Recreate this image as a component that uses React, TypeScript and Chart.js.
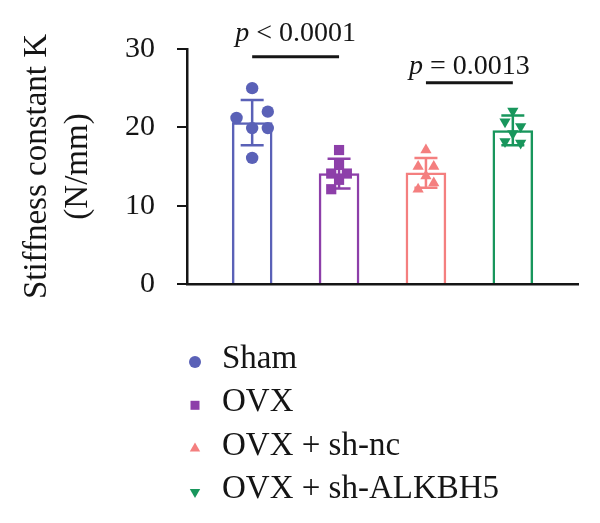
import React, { useEffect, useRef } from "react";
import { Chart, registerables } from "chart.js";
Chart.register(...registerables);

const groups = ["Sham", "OVX", "OVX + sh-nc", "OVX + sh-ALKBH5"];
const means = [20.6, 14.1, 14.2, 19.6];
const sds = [2.9, 1.9, 1.9, 1.9];
const shamPoints = [25.0, 21.2, 22.0, 19.9, 19.9, 16.1];
const ovxPoints = [17.1, 15.2, 14.1, 14.1, 13.3, 12.1];
const shncPoints = [17.1, 15.0, 15.0, 13.8, 12.9, 12.1];
const alkPoints = [22.1, 20.7, 20.1, 19.2, 18.2, 18.0];
const shamJitter = [0, -0.18, 0.18, 0, 0.18, 0];
const ovxJitter = [0, 0, -0.09, 0.09, 0, -0.09];
const shncJitter = [0, -0.09, 0.09, 0, 0.09, -0.09];
const alkJitter = [0, -0.09, 0.09, 0, -0.09, 0.09];
const yTicks = [0, 10, 20, 30];
const compFrom = [0, 2];
const compTo = [1, 3];
const compLineY = [29.0, 25.7];
const compTextY = [31.0, 26.8];
const compLabels = ["< 0.0001", "= 0.0013"];

const colors = ["#5A61B7", "#8D3FA9", "#F47F7F", "#18965C"];
const styles = ["circle", "rect", "triangle", "triangleDown"];
const FONT = "'Liberation Serif', 'Times New Roman', serif";
const INK = "#151515";

const allPoints = [shamPoints, ovxPoints, shncPoints, alkPoints];
const allJitter = [shamJitter, ovxJitter, shncJitter, alkJitter];

function drawMarker(ctx: CanvasRenderingContext2D, style: string, x: number, y: number, color: string) {
  ctx.fillStyle = color;
  ctx.beginPath();
  if (style === "circle") {
    ctx.arc(x, y, 6, 0, Math.PI * 2);
  } else if (style === "rect") {
    ctx.rect(x - 4.5, y - 4.5, 9, 9);
  } else if (style === "triangle") {
    const r = 6;
    ctx.moveTo(x, y - r);
    ctx.lineTo(x + r * Math.sin((2 * Math.PI) / 3), y - r * Math.cos((2 * Math.PI) / 3));
    ctx.lineTo(x + r * Math.sin((4 * Math.PI) / 3), y - r * Math.cos((4 * Math.PI) / 3));
    ctx.closePath();
  } else {
    const r = 6;
    ctx.moveTo(x, y + r);
    ctx.lineTo(x + r * Math.sin((2 * Math.PI) / 3), y + r * Math.cos((2 * Math.PI) / 3));
    ctx.lineTo(x + r * Math.sin((4 * Math.PI) / 3), y + r * Math.cos((4 * Math.PI) / 3));
    ctx.closePath();
  }
  ctx.fill();
}

const errorBarPlugin = {
  id: "errorBars",
  afterDatasetDraw(chart: any, args: any) {
    if (args.index !== 0) return;
    const { ctx, scales } = chart;
    const x = scales.x, y = scales.y;
    ctx.save();
    means.forEach((m, i) => {
      const cx = x.getPixelForValue(i);
      const top = y.getPixelForValue(m + sds[i]);
      const bot = y.getPixelForValue(m - sds[i]);
      ctx.strokeStyle = colors[i];
      ctx.lineWidth = 2.5;
      ctx.beginPath();
      ctx.moveTo(cx, top);
      ctx.lineTo(cx, bot);
      ctx.moveTo(cx - 11.5, top);
      ctx.lineTo(cx + 11.5, top);
      ctx.moveTo(cx - 11.5, bot);
      ctx.lineTo(cx + 11.5, bot);
      ctx.stroke();
    });
    ctx.restore();
  },
};

const annotationPlugin = {
  id: "annotations",
  afterDraw(chart: any) {
    const { ctx, scales, chartArea } = chart;
    const x = scales.x, y = scales.y;
    ctx.save();
    compFrom.forEach((f, i) => {
      const x1 = x.getPixelForValue(f);
      const x2 = x.getPixelForValue(compTo[i]);
      const ly = y.getPixelForValue(compLineY[i]);
      ctx.strokeStyle = INK;
      ctx.lineWidth = 3;
      ctx.beginPath();
      ctx.moveTo(x1, ly);
      ctx.lineTo(x2, ly);
      ctx.stroke();
      const ty = y.getPixelForValue(compTextY[i]);
      ctx.fillStyle = INK;
      ctx.textBaseline = "alphabetic";
      ctx.textAlign = "left";
      ctx.font = `italic 28px ${FONT}`;
      const pw = ctx.measureText("p").width;
      ctx.font = `28px ${FONT}`;
      const rest = " " + compLabels[i];
      const rw = ctx.measureText(rest).width;
      const start = (x1 + x2) / 2 - (pw + rw) / 2;
      ctx.font = `italic 28px ${FONT}`;
      ctx.fillText("p", start, ty);
      ctx.font = `28px ${FONT}`;
      ctx.fillText(rest, start + pw, ty);
    });

    // legend
    const lx = chartArea.left + 8;
    const ly0 = chartArea.bottom + 78;
    const step = 43.3;
    groups.forEach((g, i) => {
      const yy = ly0 + i * step;
      drawMarker(ctx, styles[i], lx, yy, colors[i]);
      ctx.fillStyle = INK;
      ctx.font = `33px ${FONT}`;
      ctx.textAlign = "left";
      ctx.textBaseline = "alphabetic";
      ctx.fillText(g, lx + 27, yy + 6);
    });
    ctx.restore();
  },
};

export default function App() {
  const ref = useRef<HTMLCanvasElement | null>(null);
  useEffect(() => {
    if (!ref.current) return;
    const datasets: any[] = [
      {
        type: "bar",
        label: "mean",
        data: means.map((m, i) => ({ x: i, y: m })),
        backgroundColor: "#ffffff",
        borderColor: colors,
        borderWidth: 2.5,
        barThickness: 40,
        borderSkipped: "bottom",
        order: 2,
      },
    ];
    allPoints.forEach((pts, i) => {
      datasets.push({
        type: "scatter",
        label: groups[i],
        data: pts.map((v, k) => ({ x: i + allJitter[i][k], y: v })),
        pointStyle: i === 3 ? "triangle" : styles[i],
        rotation: i === 3 ? 180 : 0,
        pointRadius: i === 0 ? 6.2 : i === 1 ? 7.2 : 6.5,
        backgroundColor: colors[i],
        borderColor: colors[i],
        borderWidth: 0,
        order: 0,
      });
    });
    const chart = new Chart(ref.current, {
      type: "bar",
      data: { datasets },
      options: {
        animation: false,
        responsive: false,
        layout: { padding: { top: 49, right: 22, bottom: 239, left: 0 } },
        plugins: { legend: { display: false }, tooltip: { enabled: false } },
        scales: {
          x: {
            type: "linear",
            min: -0.75,
            max: 3.75,
            offset: false,
            ticks: { display: false },
            grid: { display: false, drawTicks: false },
            border: { display: true, color: INK, width: 2.5 },
            afterFit: (s: any) => {
              s.height = 0;
            },
          },
          y: {
            min: 0,
            max: 30,
            afterBuildTicks: (s: any) => {
              s.ticks = yTicks.map((v) => ({ value: v }));
            },
            ticks: {
              font: { family: FONT, size: 30 },
              color: INK,
              padding: 22,
            },
            grid: {
              drawOnChartArea: false,
              drawTicks: true,
              tickLength: 10,
              color: INK,
              lineWidth: 2,
            },
            border: { color: INK, width: 2.5 },
            title: {
              display: true,
              text: ["Stiffness constant K", "(N/mm)"],
              font: { family: FONT, size: 33, lineHeight: 1.24 },
              color: INK,
              padding: { top: 17, bottom: 0 },
            },
            afterFit: (s: any) => {
              s.width = 187;
            },
          },
        },
      },
      plugins: [errorBarPlugin, annotationPlugin],
    } as any);
    return () => chart.destroy();
  }, []);
  return (
    <div style={{ position: "fixed", left: 0, top: 0, width: 600, height: 523, background: "#fff" }}>
      <canvas ref={ref} width={600} height={523} style={{ display: "block" }} />
    </div>
  );
}
